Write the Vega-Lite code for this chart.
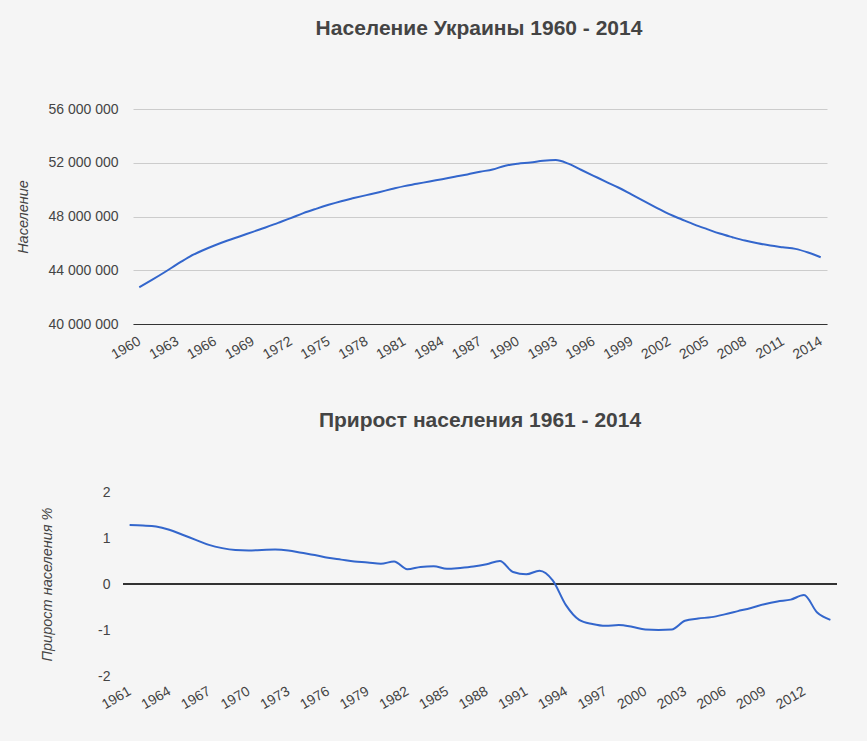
{
  "$schema": "https://vega.github.io/schema/vega-lite/v6.json",
  "description": "Население Украины и прирост населения, 1960 - 2014.",
  "background": "#f5f5f5",
  "padding": {"left": 15, "top": 18, "right": 40, "bottom": 40},
  "spacing": 48,
  "datasets": {
    "population": [
      {"year": 1960, "pop": 42730000}, {"year": 1961, "pop": 43280000}, {"year": 1962, "pop": 43850000},
      {"year": 1963, "pop": 44450000}, {"year": 1964, "pop": 45020000}, {"year": 1965, "pop": 45470000},
      {"year": 1966, "pop": 45860000}, {"year": 1967, "pop": 46210000}, {"year": 1968, "pop": 46530000},
      {"year": 1969, "pop": 46860000}, {"year": 1970, "pop": 47180000}, {"year": 1971, "pop": 47530000},
      {"year": 1972, "pop": 47880000}, {"year": 1973, "pop": 48250000}, {"year": 1974, "pop": 48570000},
      {"year": 1975, "pop": 48870000}, {"year": 1976, "pop": 49140000}, {"year": 1977, "pop": 49370000},
      {"year": 1978, "pop": 49590000}, {"year": 1979, "pop": 49810000}, {"year": 1980, "pop": 50040000},
      {"year": 1981, "pop": 50260000}, {"year": 1982, "pop": 50430000}, {"year": 1983, "pop": 50610000},
      {"year": 1984, "pop": 50780000}, {"year": 1985, "pop": 50960000}, {"year": 1986, "pop": 51130000},
      {"year": 1987, "pop": 51330000}, {"year": 1988, "pop": 51500000}, {"year": 1989, "pop": 51780000},
      {"year": 1990, "pop": 51930000}, {"year": 1991, "pop": 52020000}, {"year": 1992, "pop": 52150000},
      {"year": 1993, "pop": 52200000}, {"year": 1994, "pop": 51930000}, {"year": 1995, "pop": 51480000},
      {"year": 1996, "pop": 51030000}, {"year": 1997, "pop": 50580000}, {"year": 1998, "pop": 50140000},
      {"year": 1999, "pop": 49640000}, {"year": 2000, "pop": 49140000}, {"year": 2001, "pop": 48650000},
      {"year": 2002, "pop": 48170000}, {"year": 2003, "pop": 47780000}, {"year": 2004, "pop": 47400000},
      {"year": 2005, "pop": 47060000}, {"year": 2006, "pop": 46730000}, {"year": 2007, "pop": 46460000},
      {"year": 2008, "pop": 46210000}, {"year": 2009, "pop": 46010000}, {"year": 2010, "pop": 45840000},
      {"year": 2011, "pop": 45710000}, {"year": 2012, "pop": 45590000}, {"year": 2013, "pop": 45320000},
      {"year": 2014, "pop": 44970000}
    ],
    "growth": [
      {"year": 1961, "rate": 1.28}, {"year": 1962, "rate": 1.27}, {"year": 1963, "rate": 1.25},
      {"year": 1964, "rate": 1.18}, {"year": 1965, "rate": 1.07}, {"year": 1966, "rate": 0.96},
      {"year": 1967, "rate": 0.85}, {"year": 1968, "rate": 0.78}, {"year": 1969, "rate": 0.74},
      {"year": 1970, "rate": 0.73}, {"year": 1971, "rate": 0.74}, {"year": 1972, "rate": 0.75},
      {"year": 1973, "rate": 0.73}, {"year": 1974, "rate": 0.68}, {"year": 1975, "rate": 0.63},
      {"year": 1976, "rate": 0.57}, {"year": 1977, "rate": 0.53}, {"year": 1978, "rate": 0.49},
      {"year": 1979, "rate": 0.47}, {"year": 1980, "rate": 0.44}, {"year": 1981, "rate": 0.49},
      {"year": 1982, "rate": 0.32}, {"year": 1983, "rate": 0.37}, {"year": 1984, "rate": 0.385},
      {"year": 1985, "rate": 0.33}, {"year": 1986, "rate": 0.35}, {"year": 1987, "rate": 0.38},
      {"year": 1988, "rate": 0.43}, {"year": 1989, "rate": 0.5}, {"year": 1990, "rate": 0.26},
      {"year": 1991, "rate": 0.21}, {"year": 1992, "rate": 0.29}, {"year": 1993, "rate": 0.08},
      {"year": 1994, "rate": -0.46}, {"year": 1995, "rate": -0.78}, {"year": 1996, "rate": -0.87},
      {"year": 1997, "rate": -0.91}, {"year": 1998, "rate": -0.89}, {"year": 1999, "rate": -0.93},
      {"year": 2000, "rate": -0.99}, {"year": 2001, "rate": -1.0}, {"year": 2002, "rate": -0.99},
      {"year": 2003, "rate": -0.8}, {"year": 2004, "rate": -0.75}, {"year": 2005, "rate": -0.72},
      {"year": 2006, "rate": -0.66}, {"year": 2007, "rate": -0.59}, {"year": 2008, "rate": -0.52},
      {"year": 2009, "rate": -0.44}, {"year": 2010, "rate": -0.38}, {"year": 2011, "rate": -0.34},
      {"year": 2012, "rate": -0.24}, {"year": 2013, "rate": -0.62}, {"year": 2014, "rate": -0.78}
    ]
  },
  "vconcat": [
    {
      "title": {"text": "Население Украины 1960 - 2014", "offset": 63, "dx": 4},
      "width": 704,
      "height": 215,
      "data": {"name": "population"},
      "mark": {"type": "line", "color": "#3366cc", "strokeWidth": 2, "interpolate": "monotone"},
      "encoding": {
        "x": {
          "field": "year",
          "type": "quantitative",
          "scale": {"domain": [1959.5, 2014.5], "nice": false, "zero": false, "range": [10, 704]},
          "axis": {
            "title": null,
            "values": [1960, 1963, 1966, 1969, 1972, 1975, 1978, 1981, 1984, 1987, 1990, 1993, 1996, 1999, 2002, 2005, 2008, 2011, 2014],
            "format": "d",
            "grid": false,
            "ticks": false,
            "domain": true,
            "domainColor": "#333333",
            "labelAngle": -30,
            "labelAlign": "right",
            "labelBaseline": "middle",
            "labelPadding": 16
          }
        },
        "y": {
          "field": "pop",
          "type": "quantitative",
          "scale": {"domain": [40000000, 56000000], "nice": false, "zero": false},
          "axis": {
            "title": "Население",
            "values": [40000000, 44000000, 48000000, 52000000, 56000000],
            "format": ",d",
            "labelPadding": 5,
            "titlePadding": 17
          }
        }
      }
    },
    {
      "title": {"text": "Прирост населения 1961 - 2014", "offset": 54},
      "width": 714,
      "height": 184,
      "data": {"name": "growth"},
      "layer": [
        {
          "mark": {"type": "rule", "color": "#333333", "strokeWidth": 1},
          "encoding": {"y": {"datum": 0}}
        },
        {
          "mark": {"type": "line", "color": "#3366cc", "strokeWidth": 2, "interpolate": "monotone"},
          "encoding": {
            "x": {
              "field": "year",
              "type": "quantitative",
              "scale": {"domain": [1960.5, 2014.5], "nice": false, "zero": false},
              "axis": {
                "title": null,
                "values": [1961, 1964, 1967, 1970, 1973, 1976, 1979, 1982, 1985, 1988, 1991, 1994, 1997, 2000, 2003, 2006, 2009, 2012],
                "format": "d",
                "grid": false,
                "ticks": false,
                "domain": false,
                "labelAngle": -30,
                "labelAlign": "right",
                "labelBaseline": "middle",
                "labelPadding": 14
              }
            },
            "y": {
              "field": "rate",
              "type": "quantitative",
              "scale": {"domain": [-2, 2], "nice": false},
              "axis": {
                "title": "Прирост населения %",
                "values": [-2, -1, 0, 1, 2],
                "format": "d",
                "labelPadding": 13,
                "titlePadding": 43
              }
            }
          }
        }
      ]
    }
  ],
  "config": {
    "locale": {
      "number": {"decimal": ",", "thousands": " ", "grouping": [3], "currency": ["", ""], "minus": "-"}
    },
    "font": "Liberation Sans",
    "view": {"stroke": null},
    "title": {
      "font": "Liberation Sans",
      "fontSize": 21,
      "fontWeight": "bold",
      "color": "#444444",
      "anchor": "middle",
      "frame": "group",
      "baseline": "alphabetic"
    },
    "axis": {
      "labelFont": "Liberation Sans",
      "labelFontSize": 14,
      "labelColor": "#444444",
      "titleFont": "Liberation Sans",
      "titleFontSize": 14.5,
      "titleFontWeight": "normal",
      "titleFontStyle": "italic",
      "titleColor": "#444444",
      "gridColor": "#cccccc",
      "ticks": false,
      "domain": false,
      "labelOverlap": false,
      "labelFlush": false
    }
  }
}
